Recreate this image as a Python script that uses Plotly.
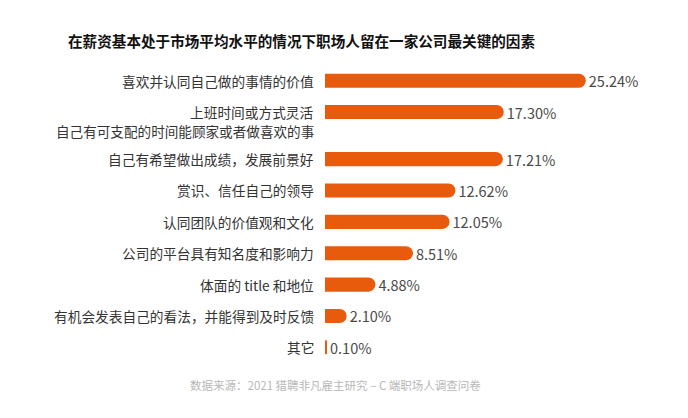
import plotly.graph_objects as go

categories = [
    "喜欢并认同自己做的事情的价值",
    "上班时间或方式灵活",
    "自己有希望做出成绩，发展前景好",
    "赏识、信任自己的领导",
    "认同团队的价值观和文化",
    "公司的平台具有知名度和影响力",
    "体面的 title 和地位",
    "有机会发表自己的看法，并能得到及时反馈",
    "其它",
]
category_second_lines = ["", "自己有可支配的时间能顾家或者做喜欢的事", "", "", "", "", "", "", ""]
values = [25.24, 17.30, 17.21, 12.62, 12.05, 8.51, 4.88, 2.10, 0.10]
title_text = "在薪资基本处于市场平均水平的情况下职场人留在一家公司最关键的因素"
source_text = "数据来源：2021 猎聘非凡雇主研究 – C 端职场人调查问卷"

FONT = "Noto Sans CJK SC"
ORANGE = "#E95B0C"

W, H = 688, 418
L, R, T, B = 325, 53, 65, 55
PW, PH = W - L - R, H - T - B

# Row positions: one unit per row, plus half a unit after a two-line label
row_pos = []
p = 0.0
for second in category_second_lines:
    row_pos.append(-p)
    p += 1.5 if second else 1.0
y_bottom = row_pos[-1]

fig = go.Figure(
    go.Bar(
        x=values,
        y=row_pos,
        orientation="h",
        marker=dict(color=ORANGE, line=dict(width=0)),
        width=0.45,
        text=[f"{v:.2f}%" for v in values],
        textposition="outside",
        constraintext="none",
        textfont=dict(family=FONT, size=14.5, color="#4a4a4a"),
        cliponaxis=False,
        hovertext=categories,
    )
)

annotations = []
for cat, second, yp in zip(categories, category_second_lines, row_pos):
    annotations.append(dict(
        text=cat, xref="paper", yref="y", x=0, y=yp, xshift=-9,
        xanchor="right", yanchor="middle", showarrow=False,
        font=dict(family=FONT, size=13.7, color="#333333"),
    ))
    if second:
        annotations.append(dict(
            text=second, xref="paper", yref="y", x=0, y=yp, xshift=-9, yshift=-19,
            xanchor="right", yanchor="middle", showarrow=False,
            font=dict(family=FONT, size=13.6, color="#333333"),
        ))

annotations.append(dict(
    text=source_text,
    xref="paper",
    yref="paper",
    x=(335 - L) / PW,
    y=((H - B) - 385) / PH,
    xanchor="center",
    yanchor="middle",
    showarrow=False,
    font=dict(family=FONT, size=11.5, color="#B8B8B8"),
))

fig.update_layout(
    width=W,
    height=H,
    margin=dict(l=L, r=R, t=T, b=B),
    paper_bgcolor="white",
    plot_bgcolor="white",
    barcornerradius=8,
    showlegend=False,
    font=dict(family=FONT, size=13, color="#333333"),
    title=dict(
        text="<b>" + title_text + "</b>",
        font=dict(family=FONT, size=14.6, color="#111111"),
        x=68 / W,
        xref="container",
        xanchor="left",
        y=1 - 42 / H,
        yref="container",
        yanchor="middle",
    ),
    xaxis=dict(range=[0, 30], visible=False, showgrid=False, zeroline=False),
    yaxis=dict(
        range=[y_bottom - 0.5, 0.5],
        visible=False,
        showgrid=False,
        zeroline=False,
    ),
    annotations=annotations,
)

fig.write_html("out.html")
